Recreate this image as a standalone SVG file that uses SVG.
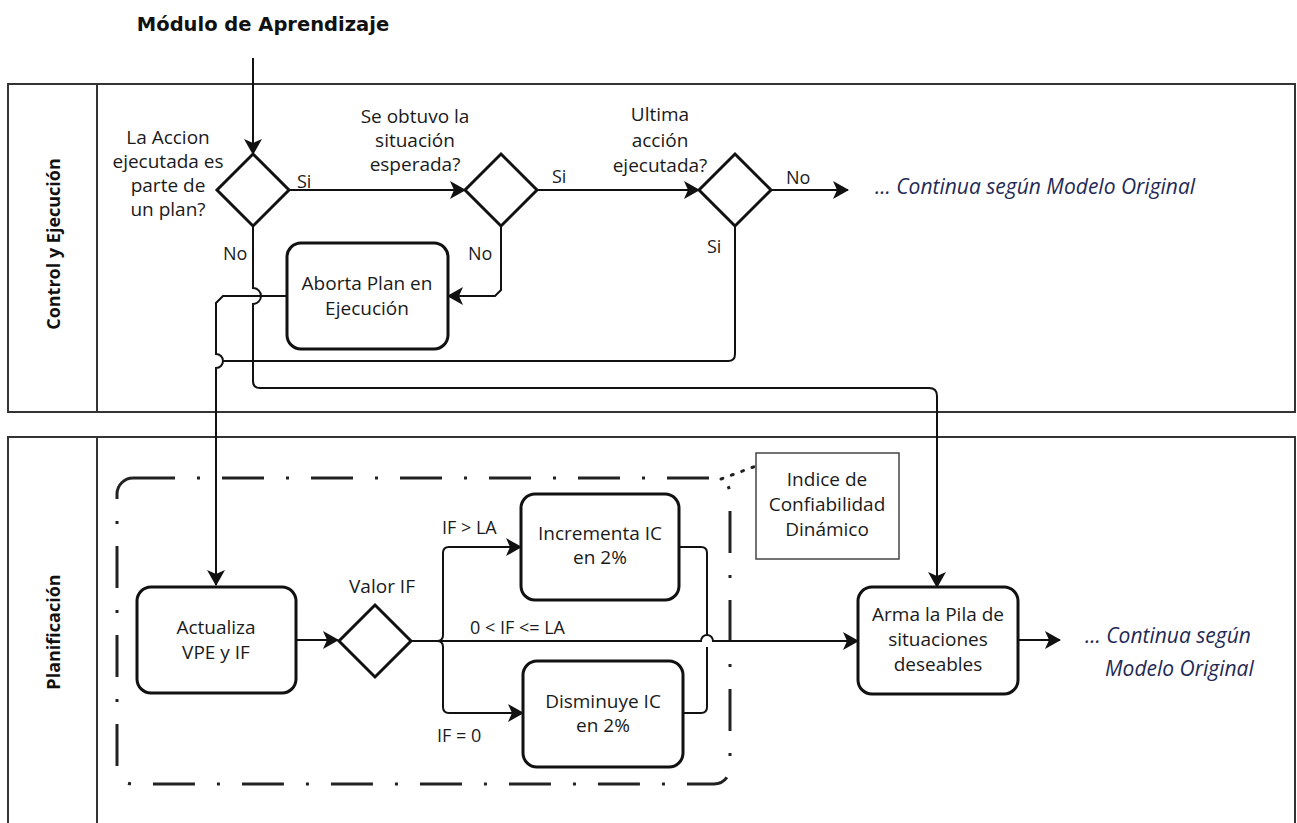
<svg xmlns="http://www.w3.org/2000/svg" width="1297" height="823" viewBox="0 0 1297 823">
  <style>
    .lane { fill: none; stroke: #333; stroke-width: 2; }
    .task { fill: #fff; stroke: #111; stroke-width: 3; }
    .gate { fill: #fff; stroke: #111; stroke-width: 3; stroke-linejoin: miter; }
    .note { fill: #fff; stroke: #444; stroke-width: 1.5; }
    .group { fill: none; stroke: #222; stroke-width: 3; stroke-dasharray: 42 22 3 22; }
    .flow { fill: none; stroke: #111; stroke-width: 2; }
    .assoc { fill: none; stroke: #222; stroke-width: 3; stroke-dasharray: 2 9; stroke-linecap: round; }
    .txt { font-family: "Open Sans", "Liberation Sans", sans-serif; font-size: 19px; fill: #1a1a1a; text-anchor: middle; }
    .lbl { font-family: "Open Sans", "Liberation Sans", sans-serif; font-size: 18px; fill: #1a1a1a; }
    .head { font-family: "Open Sans", "Liberation Sans", sans-serif; font-size: 18px; font-weight: bold; fill: #111; text-anchor: middle; }
    .title { font-family: "DejaVu Sans", "Liberation Sans", sans-serif; font-size: 19.5px; font-weight: bold; fill: #111; text-anchor: middle; }
    .cont { font-family: "Open Sans", "Liberation Sans", sans-serif; font-size: 21px; font-style: italic; fill: #1f2a55; }
  </style>
  <defs>
    <marker id="arrow" markerUnits="userSpaceOnUse" markerWidth="16" markerHeight="18" viewBox="0 0 16 18" refX="15" refY="9" orient="auto">
      <path d="M0,0 L16,9 L0,18 L4,9 Z" fill="#111"/>
    </marker>
  </defs>

  <rect width="1297" height="823" fill="#fff"/>

  <!-- title -->
  <text class="title" x="263" y="31">Módulo de Aprendizaje</text>

  <!-- swimlanes -->
  <g id="lane-control">
    <rect class="lane" x="8" y="84" width="1287" height="328"/>
    <line class="lane" x1="97" y1="84" x2="97" y2="412"/>
    <text class="head" transform="translate(60,244) rotate(-90)">Control y Ejecución</text>
  </g>
  <g id="lane-planificacion">
    <path class="lane" d="M8,823 V437 H1295 V823"/>
    <line class="lane" x1="97" y1="437" x2="97" y2="823"/>
    <text class="head" transform="translate(60,632) rotate(-90)">Planificación</text>
  </g>

  <!-- group and annotation -->
  <g id="grupo-ic">
    <rect class="group" x="117" y="478" width="613" height="306" rx="16"/>
  </g>
  <g id="nota-ic">
    <rect class="note" x="756" y="453" width="143" height="106"/>
    <text class="txt" x="827" y="486">Indice de</text>
    <text class="txt" x="827" y="511">Confiabilidad</text>
    <text class="txt" x="827" y="536">Dinámico</text>
  </g>

  <!-- connectors -->
  <g id="connectors">
    <path class="flow" d="M253,58 V154" marker-end="url(#arrow)"/>
    <path class="flow" d="M289,190 H465" marker-end="url(#arrow)"/>
    <path class="flow" d="M537,190 H699" marker-end="url(#arrow)"/>
    <path class="flow" d="M771,190 H848" marker-end="url(#arrow)"/>
    <path class="flow" d="M501,226 V290 L495,296 H448" marker-end="url(#arrow)"/>
    <path class="flow" d="M253,227 V288 A8,8 0 0 1 253,304 V381 Q253,388 260,388 H929 Q937,388 937,396 V587" marker-end="url(#arrow)"/>
    <path class="flow" d="M287,296 H223 L216,303 V354 A7,7 0 0 1 216,368 V585" marker-end="url(#arrow)"/>
    <path class="flow" d="M735,226 V354 Q735,361 728,361 H223"/>
    <path class="flow" d="M296,640 H338" marker-end="url(#arrow)"/>
    <path class="flow" d="M411,641 H701 A6,6 0 0 1 713,641 H858" marker-end="url(#arrow)"/>
    <path class="flow" d="M437,641 Q443,641 443,635 V553 Q443,547 449,547 H521" marker-end="url(#arrow)"/>
    <path class="flow" d="M437,641 Q443,641 443,647 V707 Q443,713 449,713 H523" marker-end="url(#arrow)"/>
    <path class="flow" d="M679,547 H701 Q707,547 707,553 V635"/>
    <path class="flow" d="M683,713 H701 Q707,713 707,707 V647"/>
    <path class="flow" d="M1018,640 H1060" marker-end="url(#arrow)"/>
    <path class="assoc" d="M721,479 L756,466"/>

    <text class="lbl" x="297" y="188">Si</text>
    <text class="lbl" x="223" y="260">No</text>
    <text class="lbl" x="552" y="183">Si</text>
    <text class="lbl" x="468" y="260">No</text>
    <text class="lbl" x="786" y="184">No</text>
    <text class="lbl" x="707" y="253">Si</text>
    <text class="lbl" x="442" y="534">IF &gt; LA</text>
    <text class="lbl" x="470" y="634">0 &lt; IF &lt;= LA</text>
    <text class="lbl" x="437" y="742">IF = 0</text>
  </g>

  <!-- control lane nodes -->
  <g id="gw-plan">
    <polygon class="gate" points="253,154 289,190 253,226 217,190"/>
    <text class="txt" x="168" y="144">La Accion</text>
    <text class="txt" x="168" y="168">ejecutada es</text>
    <text class="txt" x="168" y="192">parte de</text>
    <text class="txt" x="168" y="216">un plan?</text>
  </g>
  <g id="gw-situacion">
    <polygon class="gate" points="501,154 537,190 501,226 465,190"/>
    <text class="txt" x="415" y="123">Se obtuvo la</text>
    <text class="txt" x="415" y="147">situación</text>
    <text class="txt" x="415" y="171">esperada?</text>
  </g>
  <g id="gw-ultima">
    <polygon class="gate" points="735,154 771,190 735,226 699,190"/>
    <text class="txt" x="660" y="121">Ultima</text>
    <text class="txt" x="660" y="147">acción</text>
    <text class="txt" x="660" y="172">ejecutada?</text>
  </g>
  <g id="cont-control">
    <text class="cont" x="875" y="194">... Continua según Modelo Original</text>
  </g>
  <g id="aborta-plan">
    <rect class="task" x="287" y="243" width="161" height="106" rx="14"/>
    <text class="txt" x="367" y="290">Aborta Plan en</text>
    <text class="txt" x="367" y="315">Ejecución</text>
  </g>

  <!-- planning lane nodes -->
  <g id="actualiza">
    <rect class="task" x="137" y="587" width="159" height="106" rx="14"/>
    <text class="txt" x="216" y="634">Actualiza</text>
    <text class="txt" x="216" y="659">VPE y IF</text>
  </g>
  <g id="gw-valor">
    <polygon class="gate" points="375,605 411,641 375,677 339,641"/>
    <text class="txt" x="382" y="593">Valor IF</text>
  </g>
  <g id="incrementa">
    <rect class="task" x="521" y="494" width="158" height="106" rx="14"/>
    <text class="txt" x="600" y="540">Incrementa IC</text>
    <text class="txt" x="600" y="564">en 2%</text>
  </g>
  <g id="disminuye">
    <rect class="task" x="523" y="661" width="160" height="106" rx="14"/>
    <text class="txt" x="603" y="708">Disminuye IC</text>
    <text class="txt" x="603" y="732">en 2%</text>
  </g>
  <g id="arma-pila">
    <rect class="task" x="858" y="587" width="160" height="107" rx="14"/>
    <text class="txt" x="938" y="621">Arma la Pila de</text>
    <text class="txt" x="938" y="646">situaciones</text>
    <text class="txt" x="938" y="671">deseables</text>
  </g>
  <g id="cont-plan">
    <text class="cont" x="1085" y="643">... Continua según</text>
    <text class="cont" x="1105" y="676">Modelo Original</text>
  </g>
</svg>
